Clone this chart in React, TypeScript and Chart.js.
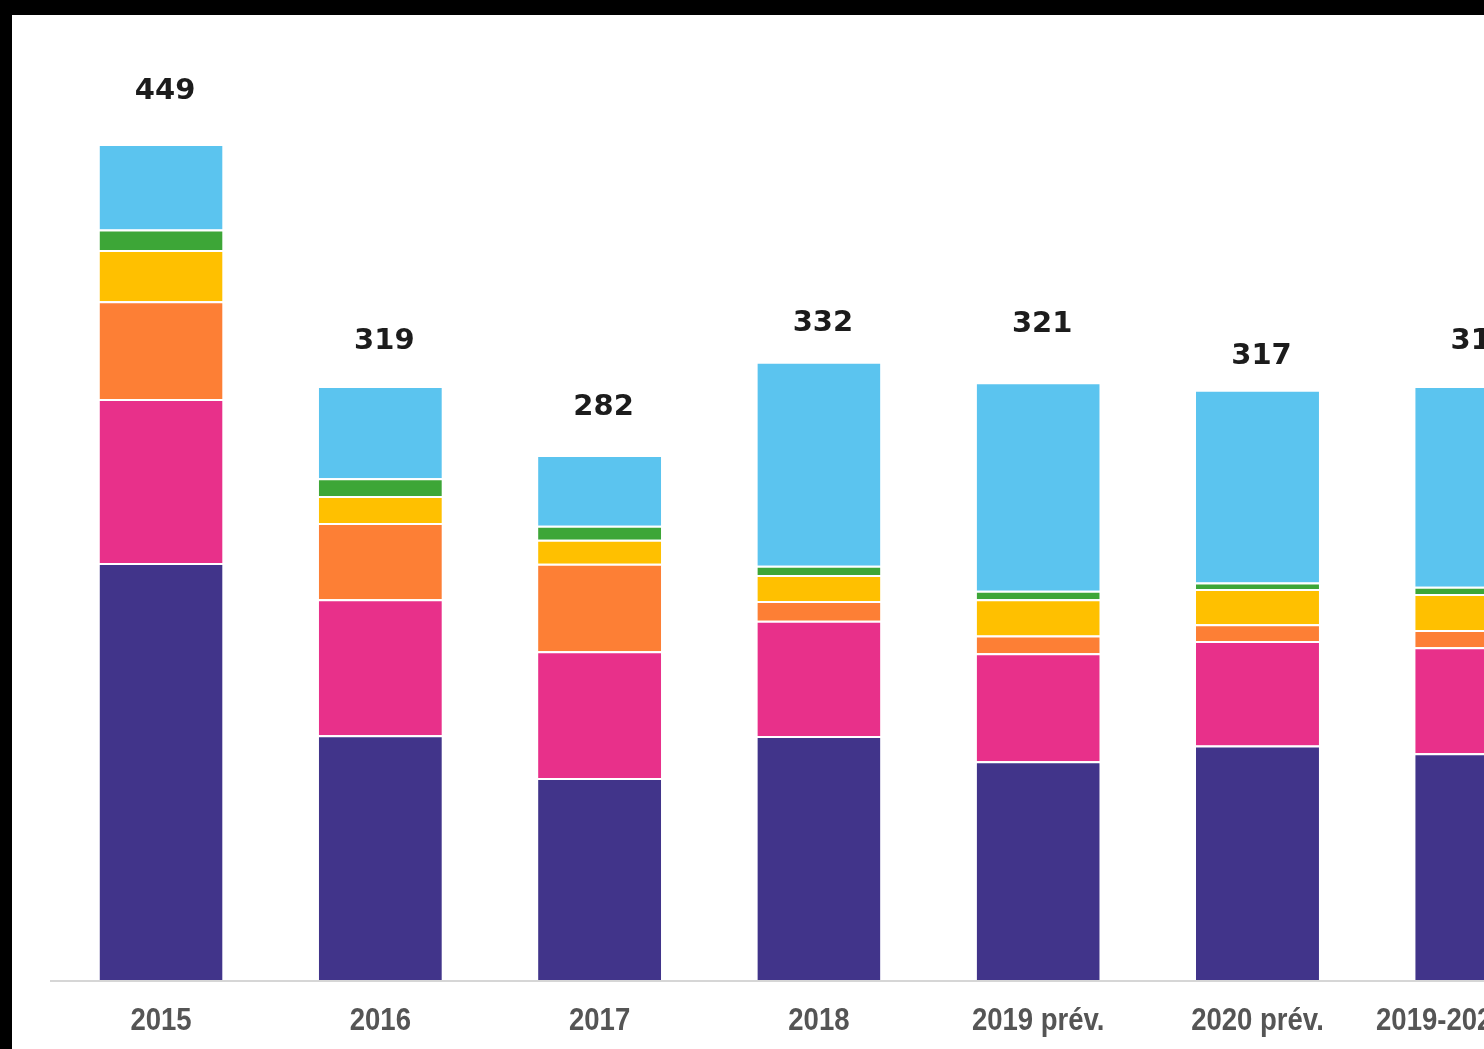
import React, { useEffect, useRef } from "react";
import { Chart, registerables } from "chart.js";

Chart.register(...registerables);

const categories = ["2015", "2016", "2017", "2018", "2019 prév.", "2020 prév.", "2019-2020 moy."];
const seriesPurple = [224, 131.5, 108.5, 131, 117.5, 126, 121.75];
const seriesMagenta = [88, 73, 68, 62, 58, 56, 57];
const seriesOrange = [52.5, 41, 47, 10.5, 9.5, 9, 9.25];
const seriesYellow = [27.5, 14.5, 13, 14, 19.5, 19, 19.25];
const seriesGreen = [11, 9.5, 7.5, 5, 4.5, 3.5, 4];
const seriesBlue = [46, 49.5, 38, 109.5, 112, 103.5, 107.75];
const totals = [449, 319, 282, 332, 321, 317, 319];

// vertical gap between bar top and total label (px)
const labelLift = [54, 47, 49, 40, 60, 35, 47];

const COLORS = ["#41348A", "#E8308A", "#FD7F35", "#FFC000", "#3DA637", "#5BC4EF"];

const CANVAS_W = 1700;
const CANVAS_H = 1034;

export default function App() {
  const ref = useRef<HTMLCanvasElement | null>(null);

  useEffect(() => {
    if (!ref.current) return;
    const series = [seriesPurple, seriesMagenta, seriesOrange, seriesYellow, seriesGreen, seriesBlue];
    const names = ["A", "B", "C", "D", "E", "F"];

    const baseline = {
      id: "baseline",
      beforeDatasetsDraw(chart: any) {
        const { ctx, chartArea } = chart;
        ctx.save();
        ctx.strokeStyle = "#d6d6d6";
        ctx.lineWidth = 2;
        ctx.beginPath();
        ctx.moveTo(38, chartArea.bottom + 1);
        ctx.lineTo(chart.width, chartArea.bottom + 1);
        ctx.stroke();
        ctx.restore();
      },
    };

    const xLabels = {
      id: "xLabels",
      afterDraw(chart: any) {
        const { ctx, chartArea } = chart;
        const xs = chart.scales.x;
        ctx.save();
        ctx.font = "bold 32px 'Liberation Sans'";
        ctx.fillStyle = "#555555";
        ctx.textAlign = "center";
        ctx.textBaseline = "alphabetic";
        (chart.data.labels as string[]).forEach((lab: string, i: number) => {
          const x = xs.getPixelForValue(i);
          ctx.save();
          ctx.translate(x, chartArea.bottom + 50);
          ctx.scale(0.86, 1);
          ctx.fillText(lab, 0, 0);
          ctx.restore();
        });
        ctx.restore();
      },
    };

    const totalsPlugin = {
      id: "totals",
      afterDatasetsDraw(chart: any) {
        const { ctx } = chart;
        const meta = chart.getDatasetMeta(chart.data.datasets.length - 1);
        ctx.save();
        ctx.font = "bold 29px 'DejaVu Sans'";
        ctx.fillStyle = "#1c1c1c";
        ctx.textAlign = "center";
        ctx.textBaseline = "middle";
        meta.data.forEach((bar: any, i: number) => {
          ctx.fillText(String(totals[i]), bar.x + 4, bar.y - labelLift[i] + 2);
        });
        ctx.restore();
      },
    };

    const chart = new Chart(ref.current, {
      type: "bar",
      data: {
        labels: categories,
        datasets: series.map((d, k) => ({
          label: names[k],
          data: d,
          backgroundColor: COLORS[k],
          borderColor: "#ffffff",
          borderWidth: { top: 2, left: 0, right: 0, bottom: 0 },
          borderSkipped: false,
          categoryPercentage: 1,
          barPercentage: 0.561,
        })),
      },
      options: {
        animation: false,
        responsive: false,
        devicePixelRatio: 1,
        layout: { padding: { left: 39.4, right: 125.6, top: 34, bottom: 69 } },
        plugins: { legend: { display: false }, tooltip: { enabled: false } },
        scales: {
          x: {
            stacked: true,
            display: false,
          },
          y: {
            stacked: true,
            display: false,
            min: 0,
            max: 500,
          },
        },
      },
      plugins: [baseline, totalsPlugin, xLabels],
    });
    return () => chart.destroy();
  }, []);

  return (
    <div style={{ position: "fixed", inset: 0, background: "#000", overflow: "hidden" }}>
      <div
        style={{
          position: "absolute",
          left: 12,
          top: 15,
          width: CANVAS_W,
          height: CANVAS_H,
          background: "#fff",
        }}
      >
        <canvas
          ref={ref}
          width={CANVAS_W}
          height={CANVAS_H}
          style={{ width: CANVAS_W, height: CANVAS_H, display: "block" }}
        />
      </div>
    </div>
  );
}
